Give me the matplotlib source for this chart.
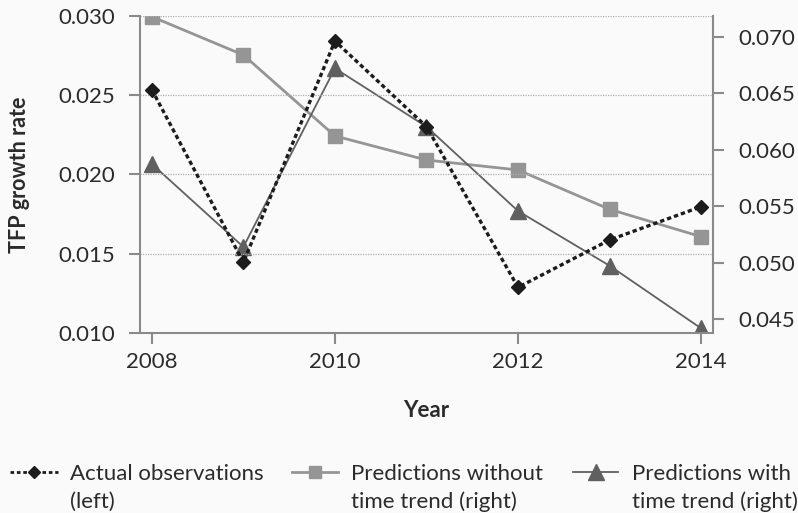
import matplotlib
matplotlib.use("Agg")
import matplotlib.pyplot as plt
from matplotlib.lines import Line2D

plt.rcParams['font.family'] = ['Lato', 'DejaVu Sans']

years = [2008, 2009, 2010, 2011, 2012, 2013, 2014]
actual = [0.02535, 0.01446, 0.02842, 0.02302, 0.01288, 0.01587, 0.01797]
pred_no_trend = [0.07177, 0.06838, 0.06122, 0.05909, 0.05821, 0.05473, 0.05231]
pred_trend = [0.05874, 0.05140, 0.06720, 0.06204, 0.05458, 0.04974, 0.04420]

left_ticks = [0.010, 0.015, 0.020, 0.025, 0.030]
right_ticks = [0.045, 0.050, 0.055, 0.060, 0.065, 0.070]
x_ticks = [2008, 2010, 2012, 2014]

legend_labels = [
    ('Actual observations', '(left)'),
    ('Predictions without', 'time trend (right)'),
    ('Predictions with', 'time trend (right)'),
]

bg = '#fafafa'
spine_c = '#8a8a8a'
text_c = '#2b2b2b'
c_actual = '#1c1c1c'
c_no_trend = '#959595'
c_trend = '#606060'

fig = plt.figure(figsize=(7.98, 5.13), dpi=100, facecolor=bg)
ax = fig.add_axes([0.1754, 0.3509, 0.7181, 0.6179])
ax2 = ax.twinx()
ax2.set_facecolor(bg)
ax.set_zorder(ax2.get_zorder() + 1)
ax.patch.set_visible(False)

# right-axis series
ax2.plot(years, pred_no_trend, color=c_no_trend, lw=2.0, marker='s', ms=9.5,
         mec=c_no_trend, mfc=c_no_trend, zorder=3)
ax2.plot(years, pred_trend, color=c_trend, lw=1.3, marker='^', ms=12,
         mec=c_trend, mfc=c_trend, zorder=4)

# left-axis series
ax.plot(years, actual, color=c_actual, lw=2.4, dashes=(1.3, 0.9),
        marker='D', ms=7, mfc=c_actual, mec=c_actual, zorder=5)

ax.set_xlim(2007.87, 2014.13)
ax.set_ylim(0.010, 0.030)
ax2.set_ylim(0.04379, 0.07183)

ax.set_xticks(x_ticks)
ax.set_xticklabels([str(x) for x in x_ticks])
ax.set_yticks(left_ticks)
ax.set_yticklabels([f'{v:.3f}' for v in left_ticks])
ax2.set_yticks(right_ticks)
ax2.set_yticklabels([f'{v:.3f}' for v in right_ticks])

for a in (ax, ax2):
    for s in a.spines.values():
        s.set_visible(False)
    a.tick_params(colors=spine_c, labelcolor=text_c, labelsize=16,
                  length=8, width=1.5, direction='out')
ax.spines['left'].set_visible(True)
ax.spines['bottom'].set_visible(True)
ax2.spines['right'].set_visible(True)
for s in (ax.spines['left'], ax.spines['bottom'], ax2.spines['right']):
    s.set_color(spine_c)
    s.set_linewidth(1.5)
ax.tick_params(axis='y', pad=10)
ax2.tick_params(axis='y', pad=10)
ax.tick_params(axis='x', pad=6)

ax.yaxis.grid(True, color='#b0b0b0', lw=0.9, ls=(0, (1, 1)))
ax.set_axisbelow(True)

ax.set_ylabel('TFP growth rate', fontsize=15.5, fontweight='bold', color=text_c, labelpad=20)
ax.set_xlabel('Year', fontsize=16, fontweight='bold', color=text_c, labelpad=20)

# legend row below the plot
W, H = 798, 513
ly = 472
handles = [
    (dict(color=c_actual, lw=2.0, dashes=(1.3, 1.0)),
     dict(marker='D', ms=6, mfc=c_actual, mec=c_actual), 10, 58, 70),
    (dict(color=c_no_trend, lw=2.0),
     dict(marker='s', ms=8, mfc=c_no_trend, mec=c_no_trend), 292, 338, 351),
    (dict(color=c_trend, lw=1.3),
     dict(marker='^', ms=12, mfc=c_trend, mec=c_trend), 573, 618, 632),
]
for (lstyle, mstyle, x0, x1, xt), (l1, l2) in zip(handles, legend_labels):
    fig.add_artist(Line2D([x0 / W, x1 / W], [1 - ly / H, 1 - ly / H],
                          transform=fig.transFigure, **lstyle))
    fig.add_artist(Line2D([(x0 + x1) / 2 / W], [1 - ly / H],
                          transform=fig.transFigure, ls='none', **mstyle))
    fig.text(xt / W, 1 - (ly + 8) / H, l1, fontsize=16, color=text_c,
             ha='left', va='baseline')
    fig.text(xt / W, 1 - (ly + 36) / H, l2, fontsize=16, color=text_c,
             ha='left', va='baseline')

fig.savefig('out.png', dpi=100, facecolor=bg)
